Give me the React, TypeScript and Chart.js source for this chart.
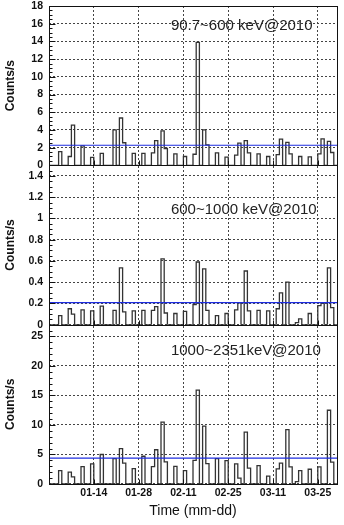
import React, { useEffect, useRef } from 'react';
import { Chart, registerables } from 'chart.js';

Chart.register(...registerables);

// Days (bin index from 12-31) that hold a count in any band
const binDays = [3, 6, 7, 10, 13, 16, 20, 22, 23, 26, 29, 32, 33, 35, 36, 39, 42, 45, 46, 48, 49, 52, 55, 58, 59, 61, 62, 65, 68, 71, 72, 74, 75, 77, 78, 81, 84, 85, 87, 88];
// 90.7~600 keV
const lowBand = [1.55, 1.0, 4.55, 2.2, 0.9, 1.35, 4.0, 5.35, 2.55, 1.35, 1.35, 1.4, 2.8, 3.9, 1.9, 1.3, 1.0, 1.25, 13.9, 4.0, 2.3, 1.4, 0.92, 1.15, 2.5, 2.8, 1.4, 1.3, 1.0, 1.2, 2.95, 2.6, 1.3, 0, 1.0, 0.95, 1.3, 3.0, 2.7, 1.45];
// 600~1000 keV
const midBand = [0.085, 0.15, 0.1, 0.14, 0.13, 0.175, 0.135, 0.535, 0.12, 0.13, 0.135, 0.135, 0.17, 0.62, 0.11, 0.105, 0.125, 0.19, 0.59, 0.525, 0.135, 0.085, 0.105, 0.14, 0.205, 0.505, 0.13, 0.135, 0.13, 0.15, 0.3, 0.4, 0, 0.02, 0.055, 0.105, 0.18, 0.2, 0.535, 0.16];
// 1000~2351 keV
const highBand = [2.26, 2.0, 1.2, 2.95, 3.4, 5.0, 4.3, 6.0, 3.55, 2.6, 4.7, 2.95, 5.8, 10.5, 3.75, 3.0, 2.26, 4.0, 15.9, 9.8, 3.45, 4.3, 3.95, 3.4, 1.0, 8.8, 2.7, 3.1, 1.35, 2.55, 3.55, 9.2, 2.9, 0.4, 2.26, 2.5, 2.9, 0, 12.5, 3.7];

const meanLevels = [2.27, 0.207, 4.4];
const bandLabels = ['90.7~600 keV@2010', '600~1000 keV@2010', '1000~2351keV@2010'];
const labelValueY = [15.7, 1.077, 22.5];
const labelDayX = 38.1;
const dayCount = 90;
const xTickDays = [14, 28, 42, 56, 70, 84];
const xTickLabels = ['01-14', '01-28', '02-11', '02-25', '03-11', '03-25'];
const yMax = [18, 1.5, 27];
const yStep = [2, 0.2, 5];
const yTopTick = [18, 1.4, 25];
const yMinorDiv = [4, 4, 5];
const panelIds = ['yTop', 'yMid', 'yBot'];
const bandValues = [lowBand, midBand, highBand];

const FONT = '"Liberation Sans", Arial, sans-serif';

function toSteps(values: number[]) {
  const daily = new Array(dayCount).fill(0);
  binDays.forEach((d, i) => {
    daily[d] = values[i];
  });
  const pts = daily.map((v, k) => ({ x: k, y: v }));
  pts.push({ x: dayCount, y: 0 });
  return pts;
}

function majorTicks(p: number) {
  const out: number[] = [];
  for (let i = 0; ; i++) {
    const v = Number((i * yStep[p]).toFixed(3));
    if (v > yTopTick[p] + 1e-9) break;
    out.push(v);
  }
  return out;
}

const rootDecor = {
  id: 'rootDecor',
  afterDraw(chart: any) {
    const { ctx, chartArea } = chart;
    const xs = chart.scales.x;
    ctx.save();
    ctx.strokeStyle = '#111';
    ctx.lineWidth = 1;
    ctx.setLineDash([]);
    const L = Math.round(chartArea.left) + 0.5;
    const R = Math.round(chartArea.right) + 0.5;
    panelIds.forEach((id, p) => {
      const s = chart.scales[id];
      const T = Math.round(s.top) + 0.5;
      const B = Math.round(s.bottom) + 0.5;
      ctx.strokeRect(L, T, R - L, B - T);
      const minor = yStep[p] / yMinorDiv[p];
      ctx.beginPath();
      for (let i = 0; ; i++) {
        const v = i * minor;
        if (v > yMax[p] + 1e-9) break;
        const y = Math.round(s.getPixelForValue(v)) + 0.5;
        const len = i % yMinorDiv[p] === 0 ? 6 : 3;
        ctx.moveTo(L, y);
        ctx.lineTo(L + len, y);
      }
      ctx.stroke();
      ctx.beginPath();
      xTickDays.forEach((d) => {
        const x = Math.round(xs.getPixelForValue(d)) + 0.5;
        ctx.moveTo(x, B);
        ctx.lineTo(x, B - 5);
      });
      ctx.stroke();
      ctx.fillStyle = '#222';
      ctx.font = '15px ' + FONT;
      ctx.textAlign = 'left';
      ctx.textBaseline = 'middle';
      ctx.fillText(bandLabels[p], xs.getPixelForValue(labelDayX), s.getPixelForValue(labelValueY[p]));
    });
    ctx.restore();
  },
};

function yScale(p: number) {
  return {
    type: 'linear',
    position: 'left',
    stack: 'panels',
    stackWeight: 1,
    min: 0,
    max: yMax[p],
    afterBuildTicks: (axis: any) => {
      axis.ticks = majorTicks(p).map((v) => ({ value: v }));
    },
    afterFit: (axis: any) => {
      axis.width = 49;
      axis.paddingTop = 0;
      axis.paddingBottom = 0;
    },
    ticks: {
      autoSkip: false,
      padding: 6,
      color: '#111',
      font: { family: FONT, size: 10.5, weight: 'bold' },
      callback: (v: number) => String(Number(v.toFixed(3))),
    },
    grid: { color: '#444', drawTicks: false, lineWidth: 1 },
    border: { display: false, dash: [2, 2] },
    title: {
      display: true,
      text: 'Counts/s',
      color: '#111',
      font: { family: FONT, size: 12, weight: 'bold' },
      padding: { top: 3, bottom: 0 },
    },
  };
}

export default function App() {
  const ref = useRef<HTMLCanvasElement | null>(null);
  useEffect(() => {
    if (!ref.current) return;
    const meanSets = panelIds.map((id, p) => ({
      data: [
        { x: 0, y: meanLevels[p] },
        { x: dayCount, y: meanLevels[p] },
      ],
      yAxisID: id,
      borderColor: 'rgb(30,45,225)',
      borderWidth: 1.2,
      pointRadius: 0,
      fill: false,
    }));
    const histSets = panelIds.map((id, p) => ({
      data: toSteps(bandValues[p]),
      yAxisID: id,
      stepped: true,
      borderColor: '#333',
      borderWidth: 1.3,
      pointRadius: 0,
      fill: false,
    }));
    const chart = new Chart(ref.current, {
      type: 'line',
      data: { datasets: [...meanSets, ...histSets] as any },
      options: {
        animation: false,
        responsive: false,
        layout: { padding: { top: 6, right: 7, left: 0, bottom: 0 } },
        plugins: { legend: { display: false }, tooltip: { enabled: false } },
        scales: {
          x: {
            type: 'linear',
            position: 'bottom',
            min: 0,
            max: dayCount,
            afterBuildTicks: (axis: any) => {
              axis.ticks = xTickDays.map((v) => ({ value: v }));
            },
            afterFit: (axis: any) => {
              axis.height = 41;
              axis.paddingLeft = 0;
              axis.paddingRight = 0;
            },
            ticks: {
              autoSkip: false,
              maxRotation: 0,
              padding: 3,
              color: '#111',
              font: { family: FONT, size: 10.5, weight: 'bold' },
              callback: (_v: any, i: number) => xTickLabels[i],
            },
            grid: { color: '#444', drawTicks: false, lineWidth: 1 },
            border: { display: false, dash: [2, 2] },
            title: {
              display: true,
              text: 'Time (mm-dd)',
              color: '#111',
              font: { family: FONT, size: 14 },
              padding: { top: 0, bottom: 5 },
            },
          },
          yBot: yScale(2),
          yMid: yScale(1),
          yTop: yScale(0),
        } as any,
      },
      plugins: [rootDecor],
    });
    return () => chart.destroy();
  }, []);
  return (
    <div style={{ position: 'absolute', left: 0, top: 0, width: 344, height: 525 }}>
      <canvas ref={ref} width={344} height={525} style={{ width: 344, height: 525, display: 'block' }} />
    </div>
  );
}
